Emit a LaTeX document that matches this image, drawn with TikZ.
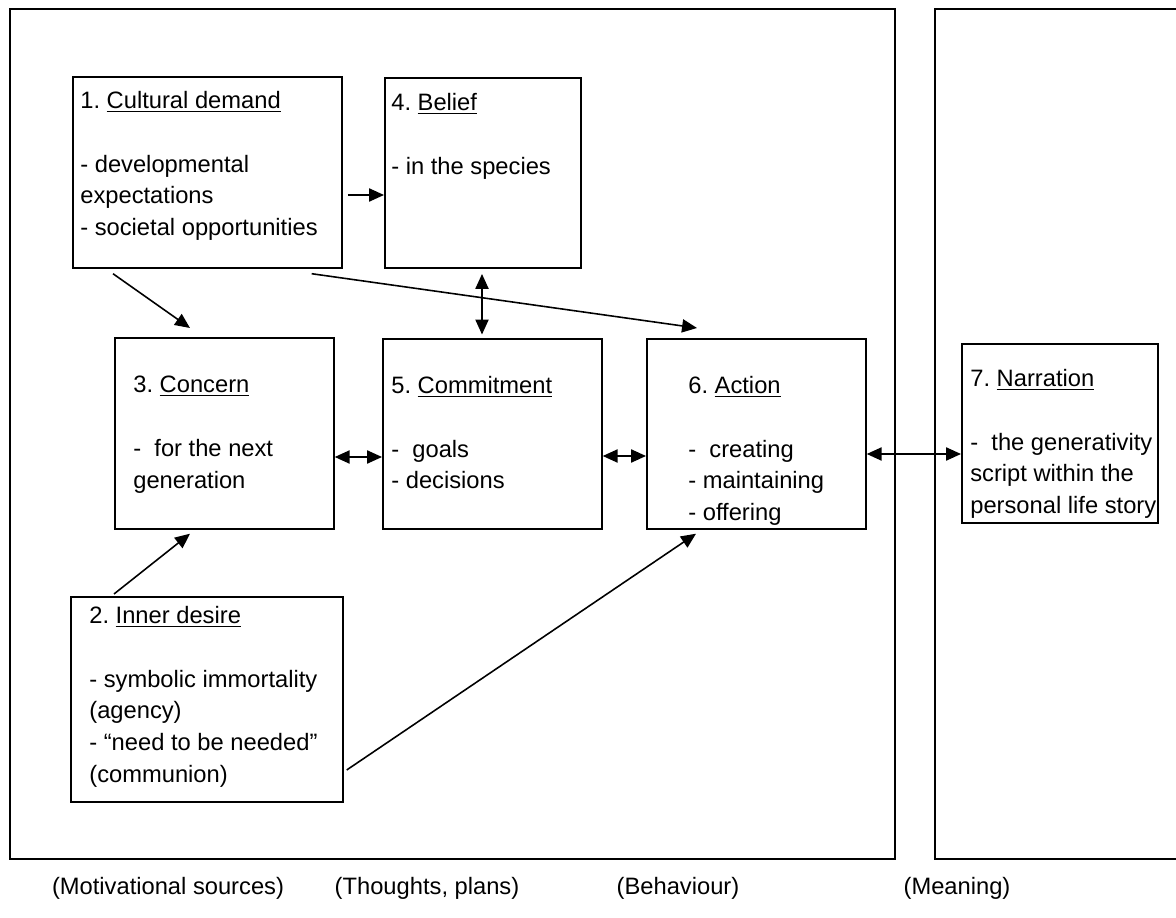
\documentclass[tikz,border=0pt]{standalone}
\usepackage{fontspec}
\setmainfont{Liberation Sans}
\usetikzlibrary{arrows.meta,calc}
\frenchspacing
\tikzset{
	box/.style={draw, line width=1pt, inner sep=0pt, anchor=north west},
	boxtext/.style={anchor=north west, inner sep=0pt, align=left, font=\fontsize{13.5}{18.1}\selectfont},
	link/.style={line width=0.9pt, -{Triangle[length=8.5pt,width=7.5pt]}},
	twoway/.style={line width=0.9pt, {Triangle[length=8.5pt,width=7.5pt]}-{Triangle[length=8.5pt,width=7.5pt]}},
	frame/.style={line width=1pt},
	column/.style={font=\fontsize{13.5}{16}\selectfont}
}
\begin{document}
\begin{tikzpicture}[x=0.02cm,y=-0.02cm]
	\useasboundingbox (0,0) rectangle (1176,918);
	\draw [frame] (10,9) rectangle (895,859);
	\draw [frame] (1176,9) -| (935,859) -- (1176,859);

	\node [box, minimum width=5.38cm, minimum height=3.82cm] (cult) at (72,76) {};
	\node [box, minimum width=3.92cm, minimum height=3.80cm] (belief) at (384,77) {};
	\node [box, minimum width=4.38cm, minimum height=3.82cm] (concern) at (114,337) {};
	\node [box, minimum width=4.38cm, minimum height=3.80cm] (commit) at (382,338) {};
	\node [box, minimum width=4.38cm, minimum height=3.80cm] (action) at (646,338) {};
	\node [box, minimum width=3.92cm, minimum height=3.58cm] (narr) at (961,343) {};
	\node [box, minimum width=5.44cm, minimum height=4.10cm] (desire) at (70,596) {};

	\node [boxtext] (cultText) at (80,91) {1. \underline{Cultural demand}\\[18.1pt]- developmental\\expectations\\- societal opportunities};
	\node [boxtext] (beliefText) at (391,93) {4. \underline{Belief}\\[18.1pt]- in the species};
	\node [boxtext] (concernText) at (133,376) {3. \underline{Concern}\\[18.1pt]- \ for the next\\generation};
	\node [boxtext] (commitText) at (391,376) {5. \underline{Commitment}\\[18.1pt]- \ goals\\- decisions};
	\node [boxtext] (actionText) at (688,376) {6. \underline{Action}\\[18.1pt]- \ creating\\- maintaining\\- offering};
	\node [boxtext] (narrText) at (970,369) {7. \underline{Narration}\\[18.1pt]- \ the generativity\\script within the\\personal life story};
	\node [boxtext] (desireText) at (89,606) {2. \underline{Inner desire}\\[18.1pt]- symbolic immortality\\(agency)\\- “need to be needed”\\(communion)};

	\draw [link, shorten <=3pt] (cult.east |- 0,195) -- (belief.west |- 0,195);
	\draw [link] ($(cult.south west)+(41,5)$) -- ($(concern.north west)+(76,-9)$);
	\draw [link] ($(cult.south east)+(-31,5)$) -- ($(action.north west)+(51,-10)$);
	\draw [twoway, shorten <=3pt, shorten >=2pt] (belief.south -| 482,0) -- (commit.north -| 482,0);
	\draw [twoway] (concern.east |- 0,457) -- (commit.west |- 0,457);
	\draw [twoway] (commit.east |- 0,456) -- (action.west |- 0,456);
	\draw [twoway] (action.east |- 0,454) -- (narr.west |- 0,454);
	\draw [link] ($(desire.north west)+(44,-2)$) -- ($(concern.south west)+(76,4)$);
	\draw [link] ($(desire.north east)+(3,174)$) -- ($(action.south west)+(50,4)$);

	\node [column] (labMotive) at (168,888) {(Motivational sources)};
	\node [column] (labThought) at (427,888) {(Thoughts, plans)};
	\node [column] (labBehave) at (678,888) {(Behaviour)};
	\node [column] (labMeaning) at (957,888) {(Meaning)};
\end{tikzpicture}
\end{document}
